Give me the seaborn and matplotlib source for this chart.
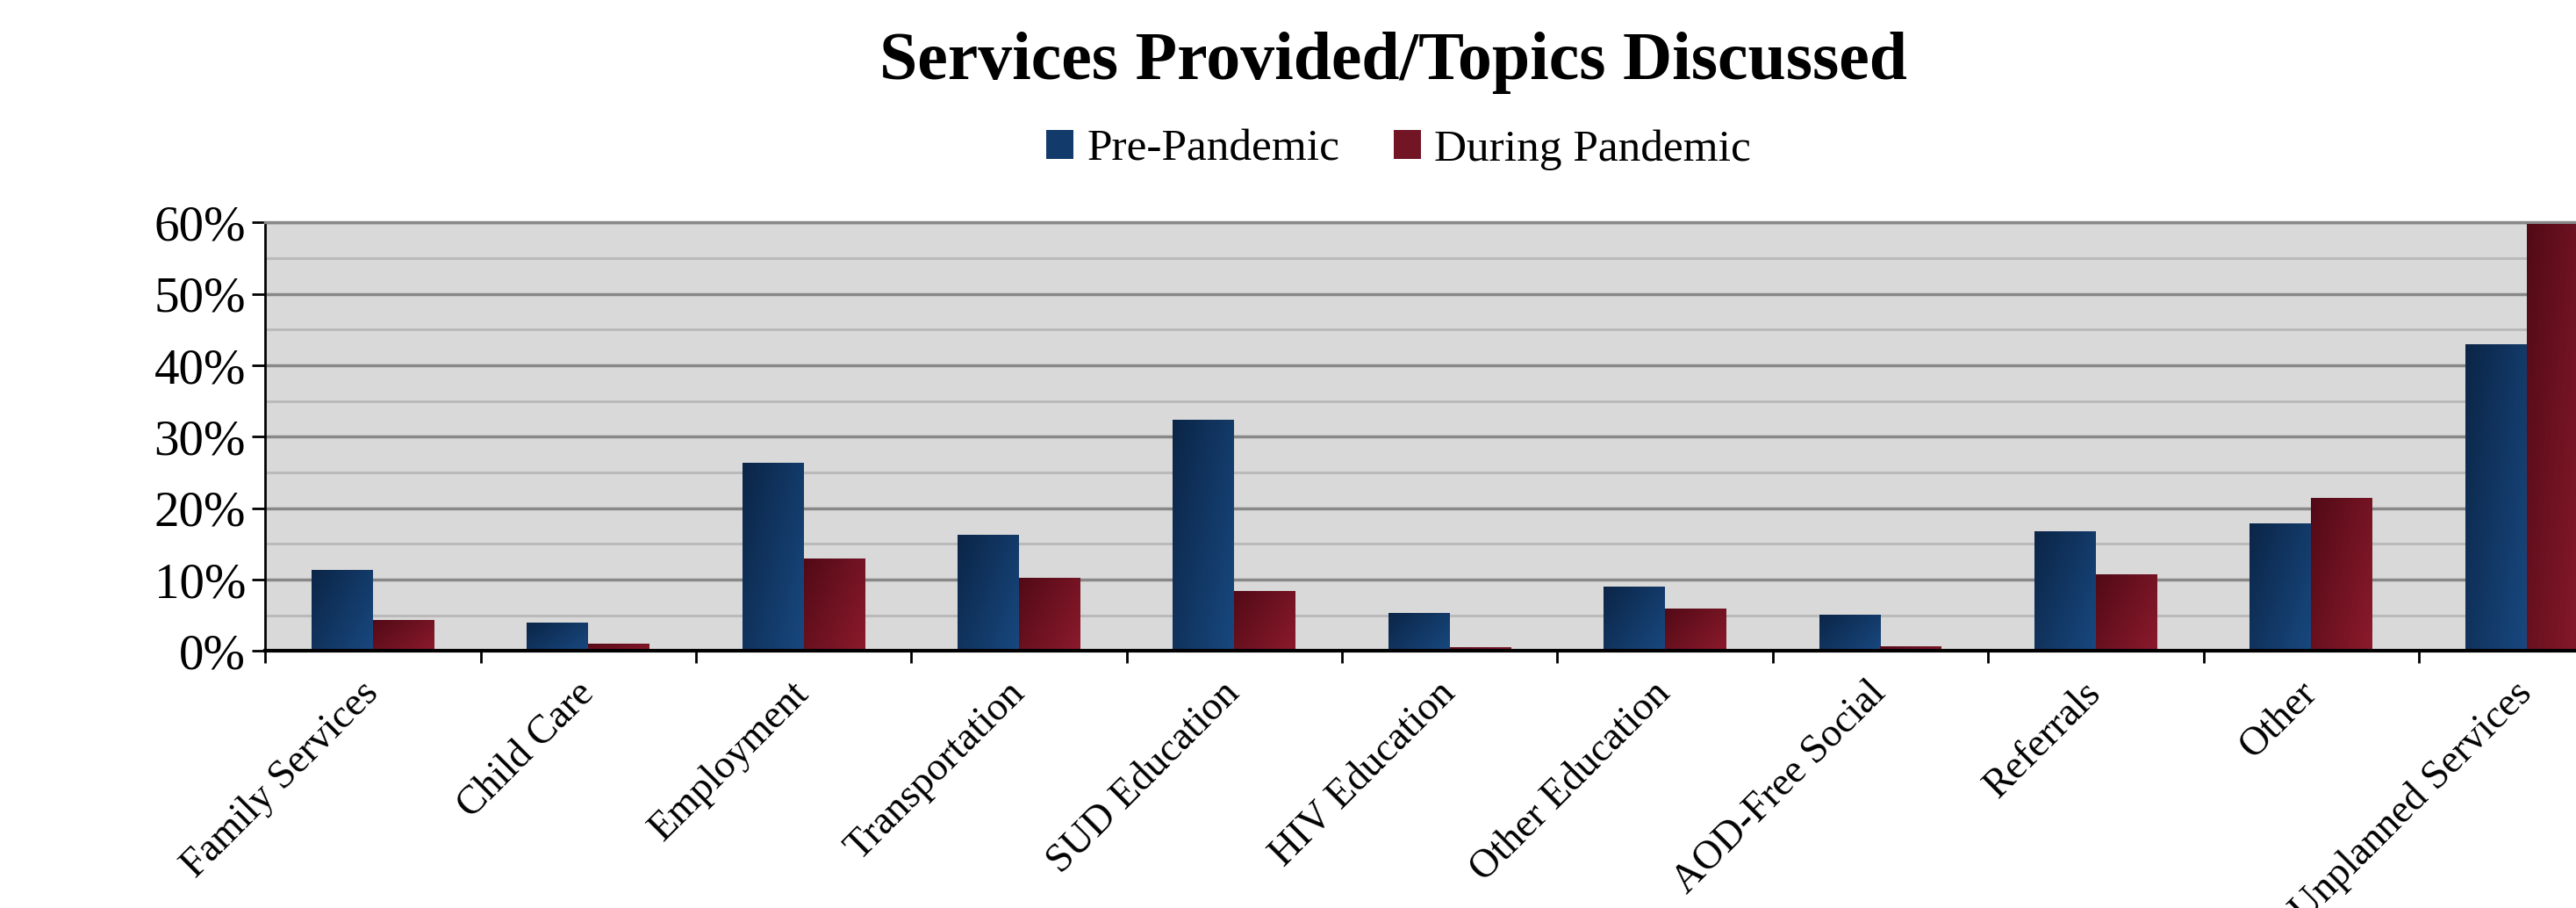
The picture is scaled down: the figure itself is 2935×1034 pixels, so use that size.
import matplotlib
matplotlib.use('Agg')
import matplotlib.pyplot as plt
import matplotlib.ticker as mticker
from matplotlib.colors import LinearSegmentedColormap
from matplotlib.patches import Patch
import numpy as np
import pandas as pd
import seaborn as sns

# Data (percent of sessions)
categories = ['Family Services', 'Child Care', 'Employment', 'Transportation',
              'SUD Education', 'HIV Education', 'Other Education', 'AOD-Free Social',
              'Referrals', 'Other', 'Unplanned Services']
pre_pandemic = [11.4, 4.0, 26.4, 16.3, 32.4, 5.3, 9.0, 5.1, 16.8, 17.9, 43.0]
during_pandemic = [4.3, 1.0, 12.9, 10.3, 8.4, 0.5, 6.0, 0.6, 10.7, 21.4, 59.8]
series_names = ['Pre-Pandemic', 'During Pandemic']

df = pd.DataFrame({
    'category': categories * 2,
    'value': pre_pandemic + during_pandemic,
    'period': [series_names[0]] * len(categories) + [series_names[1]] * len(categories),
})

sns.set_style('white')
plt.rcParams['font.family'] = ['Liberation Serif', 'DejaVu Serif']
plt.rcParams['text.color'] = 'black'
plt.rcParams['xtick.color'] = 'black'
plt.rcParams['ytick.color'] = 'black'
plt.rcParams['xtick.labelcolor'] = 'black'
plt.rcParams['ytick.labelcolor'] = 'black'

base_colors = ['#123a6a', '#721626']
gradients = [('#0b2547', '#18487f'), ('#520a16', '#8b1a2c')]

fig, ax = plt.subplots(figsize=(29.35, 10.34), dpi=100)
fig.subplots_adjust(left=0.103, right=1.0, bottom=0.283, top=0.755)

sns.barplot(data=df, x='category', y='value', hue='period', order=categories,
            hue_order=series_names, palette=base_colors, saturation=1,
            width=0.57, legend=False, ax=ax, linewidth=0, zorder=2)

# diagonal gradient fill on every bar
n = 64
gx, gy = np.meshgrid(np.linspace(0, 1, n), np.linspace(0, 1, n))
grad = 0.6 * gx + 0.4 * gy
for container, (c0, c1) in zip(ax.containers, gradients):
    cmap = LinearSegmentedColormap.from_list('g', [c0, c1])
    for bar in container.patches:
        x0 = bar.get_x()
        w = bar.get_width()
        h = bar.get_height()
        im = ax.imshow(grad, extent=[x0, x0 + w, 0, h], origin='upper',
                       aspect='auto', cmap=cmap, zorder=3, interpolation='bilinear')
        im.set_clip_path(bar)

ax.set_aspect('auto')
ax.set_xlim(-0.5, 10.23)
ax.set_ylim(0, 60)
ax.set_facecolor('#d9d9d9')

# y axis
ax.yaxis.set_major_locator(mticker.MultipleLocator(10))
ax.yaxis.set_minor_locator(mticker.MultipleLocator(5))
ax.yaxis.set_major_formatter(mticker.PercentFormatter(decimals=0))
ax.grid(which='major', axis='y', color='#888888', lw=2.5, zorder=0)
ax.grid(which='minor', axis='y', color='#bababa', lw=2.2, zorder=0)
ax.grid(False, axis='x')
ax.set_axisbelow(True)
ax.tick_params(axis='y', which='major', labelsize=41, length=11, width=2,
               color='black', pad=5, left=True)
ax.tick_params(axis='y', which='minor', length=0)

# x axis: labels at centres, tick marks at category boundaries
ax.set_xticks(range(len(categories)))
ax.set_xticklabels(categories, rotation=45, ha='right', va='center',
                   rotation_mode='anchor')
ax.set_xticks(np.arange(-0.5, len(categories) - 0.5, 1), minor=True)
ax.tick_params(axis='x', which='major', labelsize=33, length=0, pad=30)
ax.tick_params(axis='x', which='minor', length=10, width=2, color='black',
               bottom=True)
ax.set_xlabel('')
ax.set_ylabel('')

ax.spines['right'].set_visible(False)
ax.spines['top'].set_color('#888888')
ax.spines['top'].set_linewidth(2.5)
ax.spines['left'].set_color('black')
ax.spines['left'].set_linewidth(2)
ax.spines['bottom'].set_color('black')
ax.spines['bottom'].set_linewidth(3)
ax.spines['bottom'].set_zorder(5)

fig.text(0.541, 0.931, 'Services Provided/Topics Discussed', ha='center',
         va='center', fontsize=56, fontweight='bold', color='black')

handles = [Patch(facecolor=c, edgecolor='none', label=s)
           for c, s in zip(base_colors, series_names)]
fig.legend(handles=handles, loc='center', bbox_to_anchor=(0.543, 0.835), ncol=2,
           frameon=False, fontsize=37, handlelength=0.6, handleheight=0.6,
           handletextpad=0.3, columnspacing=1.2, labelcolor='black')

plt.savefig('out.png', dpi=100)
